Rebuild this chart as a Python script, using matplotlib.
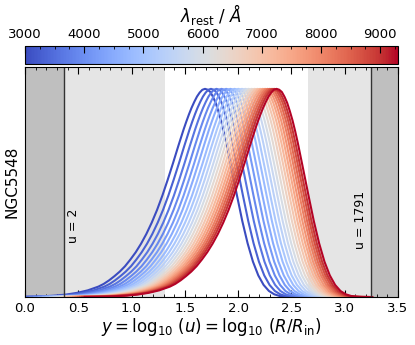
import numpy as np
import matplotlib as mpl
import matplotlib.pyplot as plt
from matplotlib.ticker import MultipleLocator

# rest-frame wavelengths of the curves (Angstrom)
wavelengths = [3000, 3300, 3600, 3900, 4200, 4500, 4800, 5100, 5400, 5700, 6000,
               6300, 6600, 6900, 7200, 7500, 7800, 8100, 8400, 8700, 9000, 9300]
# position of the maximum of each curve in log10(u)
peak_logu = [1.689, 1.745, 1.797, 1.844, 1.888, 1.928, 1.967, 2.002, 2.036, 2.068, 2.098,
             2.127, 2.155, 2.181, 2.206, 2.230, 2.253, 2.276, 2.297, 2.318, 2.338, 2.360]

# normalised curve shape (offset from peak, height)
profile_dy = [-1.80, -1.70, -1.60, -1.50, -1.40, -1.30, -1.20, -1.10, -1.00, -0.95,
              -0.90, -0.85, -0.80, -0.75, -0.70, -0.65, -0.60, -0.55, -0.50, -0.45,
              -0.40, -0.35, -0.30, -0.25, -0.20, -0.175, -0.15, -0.125, -0.10, -0.075,
              -0.05, -0.025, 0.00, 0.025, 0.05, 0.075, 0.10, 0.125, 0.15, 0.175,
              0.20, 0.25, 0.30, 0.35, 0.40, 0.45, 0.50, 0.55, 0.60, 0.65,
              0.70, 0.75, 0.80, 0.90]
profile_val = [0.0005, 0.001, 0.002, 0.004, 0.007, 0.012, 0.020, 0.032, 0.050, 0.063,
               0.080, 0.100, 0.122, 0.148, 0.180, 0.215, 0.256, 0.303, 0.357, 0.418,
               0.487, 0.563, 0.643, 0.726, 0.806, 0.843, 0.878, 0.910, 0.938, 0.963,
               0.982, 0.9955, 1.000, 0.996, 0.985, 0.962, 0.933, 0.893, 0.849, 0.797,
               0.740, 0.615, 0.488, 0.365, 0.258, 0.170, 0.104, 0.058, 0.029, 0.013,
               0.005, 0.002, 0.0005, 0.0]

# limits in log10(u)
y_in = 0.37       # u = 2
y_out = 3.25      # u = 1791
light_left = 1.31
light_right = 2.66

fig = plt.figure(figsize=(4.15, 3.45), dpi=100)
ax = fig.add_axes([0.0602, 0.1391, 0.8988, 0.6667])
cax = fig.add_axes([0.0602, 0.8136, 0.8988, 0.0539])

cmap = plt.get_cmap('coolwarm')
norm = mpl.colors.Normalize(vmin=3000, vmax=9300)

ax.axvspan(0, y_in, color='#bfbfbf', lw=0)
ax.axvspan(y_out, 3.5, color='#bfbfbf', lw=0)
ax.axvspan(y_in, light_left, color='#e5e5e5', lw=0)
ax.axvspan(light_right, y_out, color='#e5e5e5', lw=0)

dy = np.array(profile_dy)
for lam, pk in zip(wavelengths, peak_logu):
    ax.plot(pk + dy, profile_val, color=cmap(norm(lam)), lw=1.5)

ax.axvline(y_in, color='#333333', lw=1)
ax.axvline(y_out, color='#333333', lw=1)
ax.text(y_in + 0.085, 0.34, 'u = 2', rotation=90, ha='center', va='center', fontsize=9)
ax.text(y_out - 0.1, 0.37, 'u = 1791', rotation=90, ha='center', va='center', fontsize=9)

ax.set_xlim(0, 3.5)
ax.set_ylim(0, 1.105)
ax.set_yticks([])
ax.xaxis.set_major_locator(MultipleLocator(0.5))
ax.xaxis.set_minor_locator(MultipleLocator(0.1))
ax.tick_params(axis='x', which='major', direction='in', top=True, length=5, labelsize=9.5)
ax.tick_params(axis='x', which='minor', direction='in', top=True, length=2.5)
ax.set_xlabel(r'$y = \log_{10}\,(u) = \log_{10}\,(R/R_{\rm in})$', fontsize=12, labelpad=1)
ax.set_ylabel('NGC5548', fontsize=11)

sm = mpl.cm.ScalarMappable(norm=norm, cmap=cmap)
cb = fig.colorbar(sm, cax=cax, orientation='horizontal')
cax.xaxis.set_ticks_position('top')
cax.xaxis.set_label_position('top')
cb.set_ticks([3000, 4000, 5000, 6000, 7000, 8000, 9000])
cax.xaxis.set_minor_locator(MultipleLocator(250))
cax.tick_params(which='major', direction='in', length=5, labelsize=9.5)
cax.tick_params(which='minor', direction='in', length=2.5)
cb.set_label(r'$\lambda_{\rm rest}$ / $Å$', fontsize=12)

fig.savefig('out.png', dpi=100)
